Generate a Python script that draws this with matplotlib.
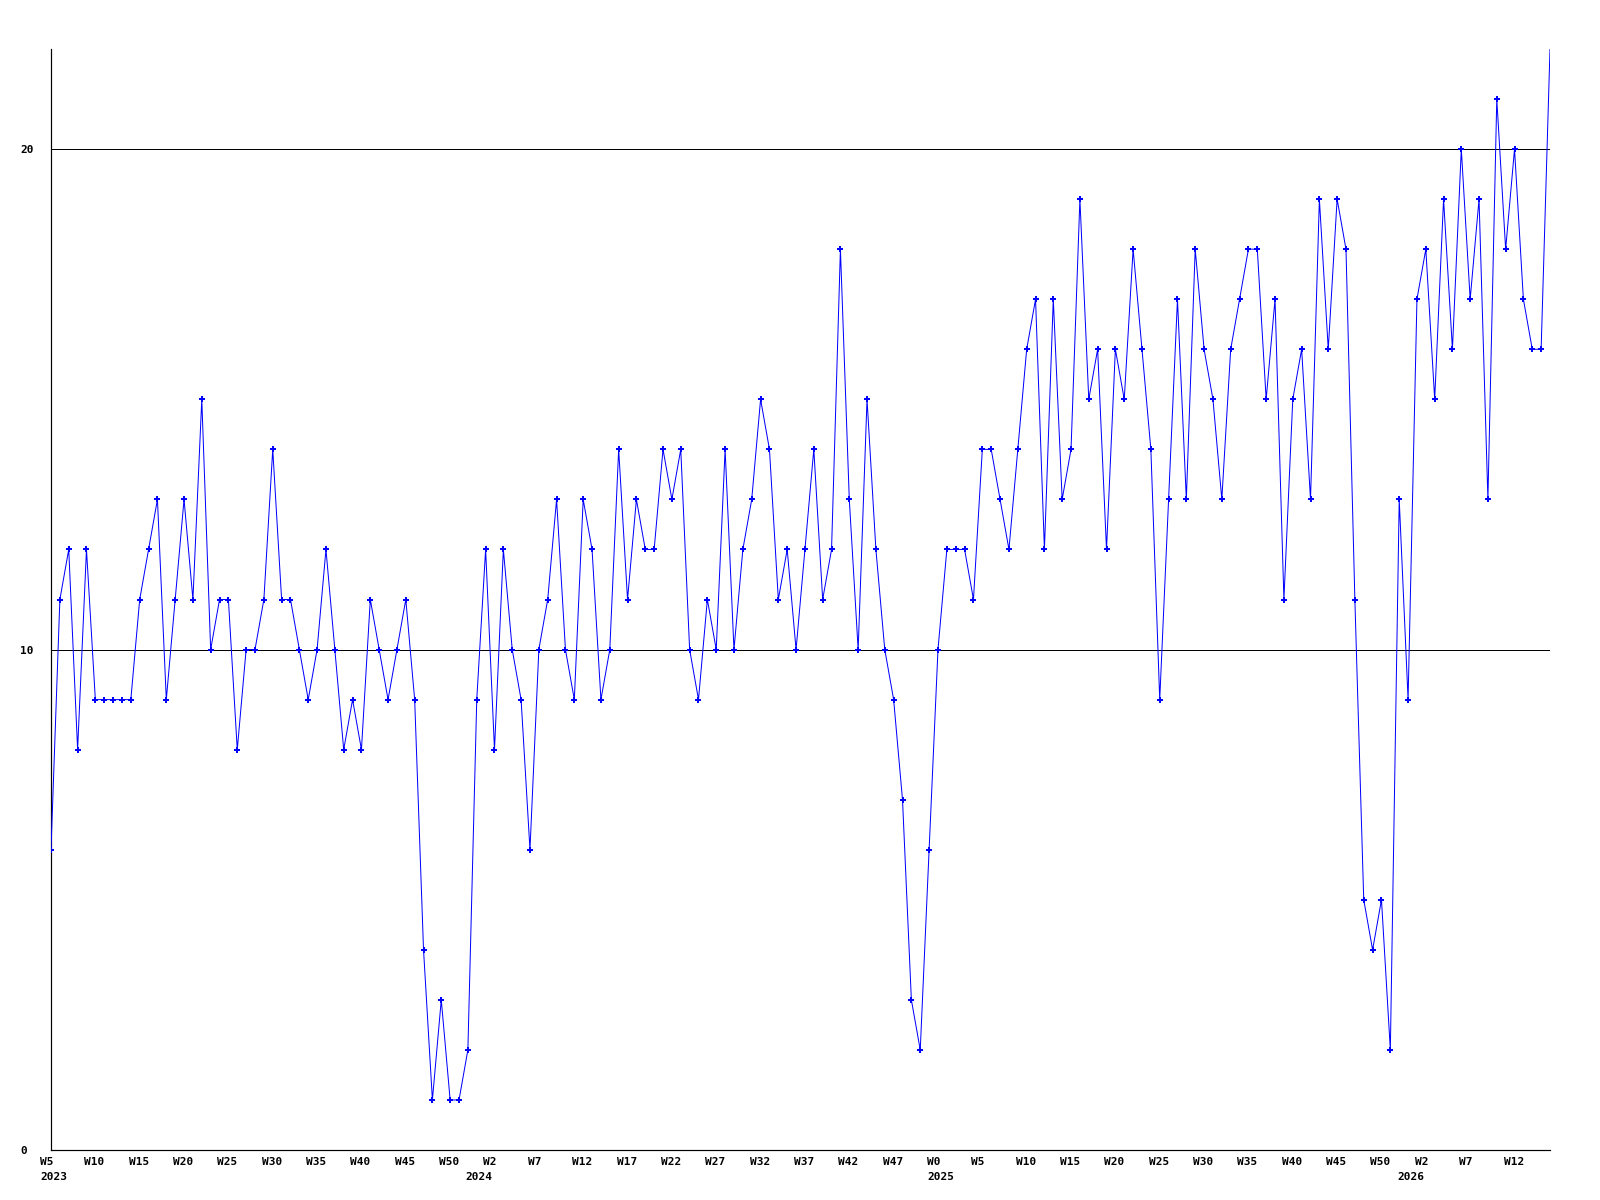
import matplotlib
matplotlib.use("Agg")
import matplotlib.pyplot as plt
from matplotlib import transforms

# ---- data ----
values = [6, 11, 12, 8, 12, 9, 9, 9, 9, 9,
          11, 12, 13, 9, 11, 13, 11, 15, 10, 11,
          11, 8, 10, 10, 11, 14, 11, 11, 10, 9,
          10, 12, 10, 8, 9, 8, 11, 10, 9, 10,
          11, 9, 4, 1, 3, 1, 1, 2, 9, 12,
          8, 12, 10, 9, 6, 10, 11, 13, 10, 9,
          13, 12, 9, 10, 14, 11, 13, 12, 12, 14,
          13, 14, 10, 9, 11, 10, 14, 10, 12, 13,
          15, 14, 11, 12, 10, 12, 14, 11, 12, 18,
          13, 10, 15, 12, 10, 9, 7, 3, 2, 6,
          10, 12, 12, 12, 11, 14, 14, 13, 12, 14,
          16, 17, 12, 17, 13, 14, 19, 15, 16, 12,
          16, 15, 18, 16, 14, 9, 13, 17, 13, 18,
          16, 15, 13, 16, 17, 18, 18, 15, 17, 11,
          15, 16, 13, 19, 16, 19, 18, 11, 5, 4,
          5, 2, 13, 9, 17, 18, 15, 19, 16, 20,
          17, 19, 13, 21, 18, 20, 17, 16, 16, 22]

week_labels = ["W5", "W10", "W15", "W20", "W25", "W30", "W35", "W40", "W45", "W50",
               "W2", "W7", "W12", "W17", "W22", "W27", "W32", "W37", "W42", "W47",
               "W0", "W5", "W10", "W15", "W20", "W25", "W30", "W35", "W40", "W45",
               "W50", "W2", "W7", "W12"]
week_label_index = list(range(0, 170, 5))

year_labels = ["2023", "2024", "2025", "2026"]
year_label_index = [0, 48, 100, 153]

y_ticks = [0, 10, 20]
y_tick_labels = ["0", "10", "20"]

# ---- figure ----
W, H, DPI = 1600, 1200, 100
fig = plt.figure(figsize=(W / DPI, H / DPI), dpi=DPI, facecolor="white")
left, right, top, bottom = 51, 1550, 49, 1150
ax = fig.add_axes([left / W, (H - bottom) / H, (right - left) / W, (bottom - top) / H])

x = list(range(len(values)))
px = 72 / DPI  # points per pixel
ax.plot(x, values, color="#0000ff", linewidth=1.0 * px, marker="P",
        markersize=5.5 * px, markeredgewidth=0, markerfacecolor="#0000ff",
        markevery=list(range(len(values) - 1)), zorder=3)

ax.set_xlim(0, len(values) - 1)
ax.set_ylim(0, 22)

for s in ["top", "right"]:
    ax.spines[s].set_visible(False)
for s in ["left", "bottom"]:
    ax.spines[s].set_linewidth(1.2 * px)
    ax.spines[s].set_color("black")

ax.set_yticks(y_ticks)
ax.set_yticklabels(y_tick_labels)
ax.tick_params(axis="y", length=0, pad=31 * px)
for lab in ax.get_yticklabels():
    lab.set_horizontalalignment("left")
    lab.set_fontfamily("DejaVu Sans Mono")
    lab.set_fontweight("bold")
    lab.set_fontsize(8)
ax.grid(axis="y", color="black", linewidth=1.0 * px)
ax.set_axisbelow(True)

ax.set_xticks([])
font = dict(family="DejaVu Sans Mono", weight="bold", size=8)
trans = transforms.blended_transform_factory(ax.transData, ax.transAxes)
wk_trans = transforms.offset_copy(trans, fig=fig, x=-11, y=-12, units="dots")
yr_trans = transforms.offset_copy(trans, fig=fig, x=-11, y=-27, units="dots")
for i, lab in zip(week_label_index, week_labels):
    ax.text(i, 0, lab, transform=wk_trans, ha="left", va="center", clip_on=False, **font)
for i, lab in zip(year_label_index, year_labels):
    ax.text(i, 0, lab, transform=yr_trans, ha="left", va="center", clip_on=False, **font)

fig.savefig("out.png", dpi=DPI, facecolor="white")
